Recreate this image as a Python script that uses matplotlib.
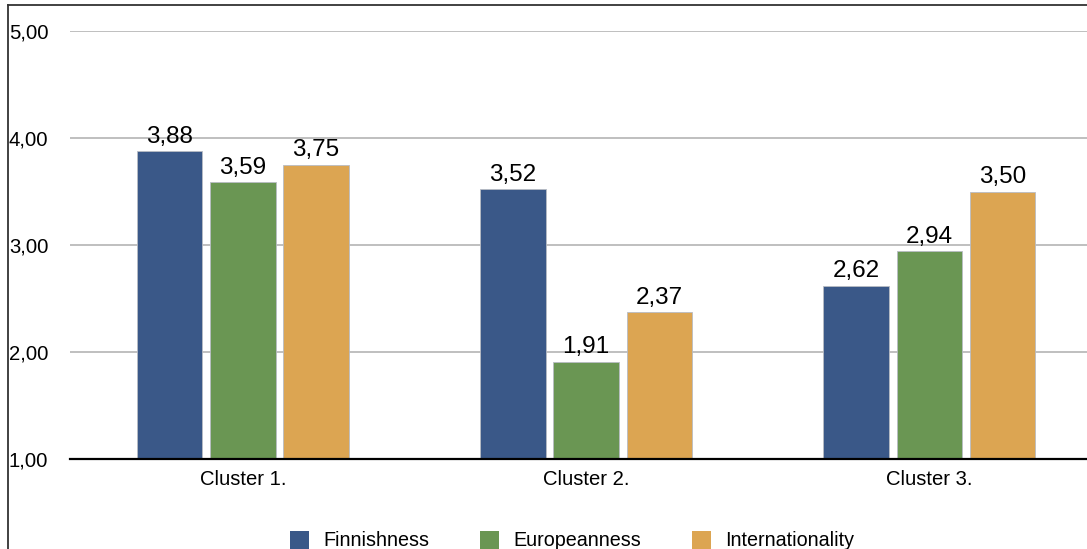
import numpy as np
import matplotlib.pyplot as plt
from matplotlib.lines import Line2D
from matplotlib.patches import Patch

plt.rcParams["font.family"] = ["Liberation Sans", "DejaVu Sans"]

clusters = ["Cluster 1.", "Cluster 2.", "Cluster 3."]
series = ["Finnishness", "Europeanness", "Internationality"]
finnishness = [3.88, 3.52, 2.62]
europeanness = [3.59, 1.91, 2.94]
internationality = [3.75, 2.37, 3.50]
y_ticks = [1, 2, 3, 4, 5]
y_tick_labels = ["1,00", "2,00", "3,00", "4,00", "5,00"]

colors = ["#3a5888", "#6a9653", "#dca552"]
values = [finnishness, europeanness, internationality]

W, H = 1087, 549
fig = plt.figure(figsize=(W / 100, H / 100), dpi=100)
ax = fig.add_axes([70 / W, 1 - 459 / H, 1 - 70 / W, (459 - 31) / H])

x = np.arange(len(clusters))
width = 0.19
step = 0.213

for i, (name, vals, col) in enumerate(zip(series, values, colors)):
    pos = x + (i - 1) * step
    ax.bar(pos, np.array(vals) - 1, bottom=1, width=width, color=col,
           edgecolor="#b8bcc4", linewidth=0.6, zorder=3, label=name)
    for p, v in zip(pos, vals):
        ax.annotate(f"{v:.2f}".replace(".", ","), (p, v), xytext=(0, 6),
                    textcoords="offset points", ha="center", va="baseline",
                    fontsize=17.5, color="black", zorder=4)

ax.set_xlim(-0.504, 2.46)
ax.set_ylim(1, 5)
ax.set_yticks(y_ticks)
ax.set_yticklabels(y_tick_labels, ha="left")
ax.tick_params(axis="y", length=0, pad=44, labelsize=14.6)
ax.set_xticks(x)
ax.set_xticklabels(clusters)
ax.tick_params(axis="x", length=0, pad=8, labelsize=14.6)

ax.grid(axis="y", color="#b4b4b4", linewidth=1.2, zorder=0)
for s in ["left", "right", "top"]:
    ax.spines[s].set_visible(False)
ax.spines["bottom"].set_color("black")
ax.spines["bottom"].set_linewidth(1.6)
ax.spines["bottom"].set_zorder(5)

# frame of the original chart (cropped)
fig.add_artist(Line2D([8 / W, 8 / W], [0, 1 - 5 / H], color="#333333", linewidth=1.3))
fig.add_artist(Line2D([8 / W, 1], [1 - 5 / H, 1 - 5 / H], color="#333333", linewidth=1.3))

handles = [Patch(facecolor=c, edgecolor="none") for c in colors]
fig.legend(handles, series, loc="center", ncol=3,
           bbox_to_anchor=(572 / W, 1 - 540.5 / H), frameon=False,
           fontsize=14.2, handlelength=0.96, handleheight=1.05,
           handletextpad=0.71, columnspacing=2.58)

fig.savefig("out.png", dpi=100)
